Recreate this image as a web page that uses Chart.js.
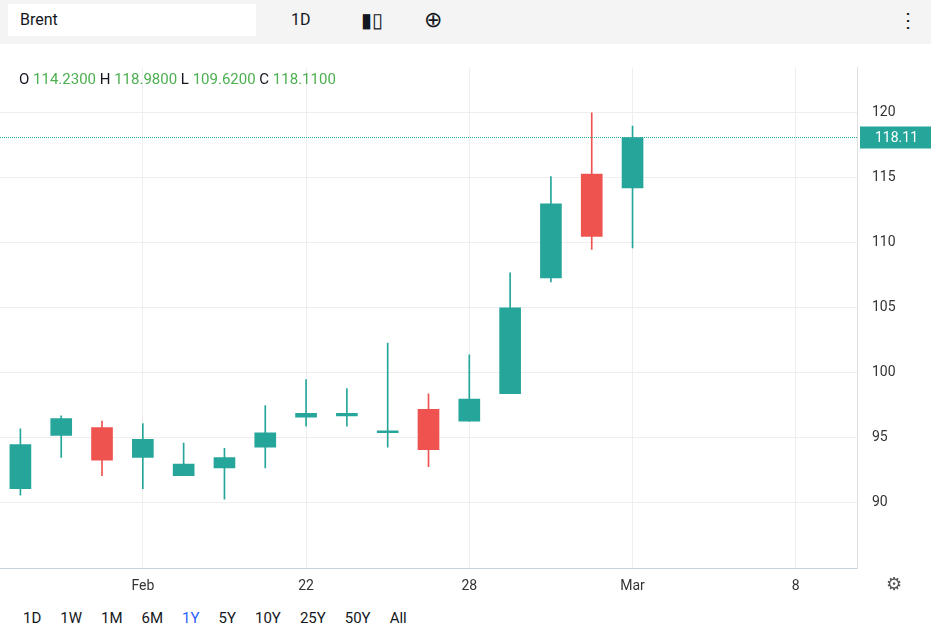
<!DOCTYPE html>
<html><head><meta charset="utf-8">
<script src="https://cdn.jsdelivr.net/npm/chart.js@4.4.1/dist/chart.umd.min.js"></script>
<style>
body{margin:0;width:931px;height:633px;font-family:Roboto,"Noto Sans",sans-serif;background:#fff;position:relative;overflow:hidden;color:#131722}
#top{position:absolute;left:0;top:0;width:931px;height:44px;background:#f4f4f4}
#sym{position:absolute;left:8px;top:4px;width:248px;height:32px;background:#fff;font-size:16px;line-height:32px;padding-left:12px;box-sizing:border-box}
.tb{position:absolute;top:0;line-height:40px;font-size:16px}
#ohlc{position:absolute;left:19px;top:70px;font-size:15px}
#ohlc span{color:#4caf50}
#wrap{position:absolute;left:0;top:44px;width:931px;height:556px}
#bot{position:absolute;left:23px;top:609px;font-size:15px}
#bot span{margin-right:19px}
</style></head><body>
<div id="top"><div id="sym">Brent</div>
<div class="tb" style="left:291px">1D</div>
<div class="tb" style="left:361px;font-size:20px">&#9646;&#9647;</div>
<div class="tb" style="left:424px;font-size:22px">&#8853;</div>
<div class="tb" style="left:898px;font-size:20px">&#8942;</div></div>
<div id="wrap"><canvas id="c"></canvas></div>
<div id="ohlc">O <span>114.2300</span> H <span>118.9800</span> L <span>109.6200</span> C <span>118.1100</span></div>
<div id="bot"><span>1D</span><span>1W</span><span>1M</span><span>6M</span><span style="color:#2962ff">1Y</span><span>5Y</span><span>10Y</span><span>25Y</span><span>50Y</span><span>All</span></div>
<div style="position:absolute;left:886px;top:573px;font-size:18px;color:#555">&#9881;</div>
<script>
const labels = ['', '', '', 'Feb', '', '', '', '22', '', '', '', '28', '', '', '', 'Mar', '', '', '', '8', ''];
const opens  = [91.1, 95.2, 95.8, 93.5, 92.1, 92.7, 94.3, 96.6, 96.7, 95.4, 97.2, 96.3, 98.4, 107.3, 115.3, 114.23];
const highs  = [95.7, 96.7, 96.3, 96.1, 94.6, 94.2, 97.5, 99.5, 98.8, 102.3, 98.4, 101.4, 107.7, 115.1, 120.0, 118.98];
const lows   = [90.6, 93.5, 92.1, 91.1, 92.1, 90.3, 92.7, 95.9, 95.9, 94.3, 92.8, 96.3, 98.4, 107.0, 109.5, 109.62];
const closes = [94.5, 96.5, 93.3, 94.9, 93.0, 93.5, 95.4, 96.9, 96.9, 95.55, 94.1, 98.0, 105.0, 113.0, 110.5, 118.11];
const yTicks = [90, 95, 100, 105, 110, 115, 120];
const lastPrice = 118.11;

const green = '#26a69a', red = '#ef5350';
const colors = opens.map((o, i) => closes[i] >= o ? green : red);

const priceLine = {
  id: 'priceLine',
  afterDraw(chart) {
    const {ctx, chartArea, scales} = chart;
    const y = Math.round(scales.y.getPixelForValue(lastPrice)) + 0.5;
    ctx.save();
    ctx.strokeStyle = green; ctx.lineWidth = 1; ctx.setLineDash([1, 1]);
    ctx.beginPath(); ctx.moveTo(0, y); ctx.lineTo(chartArea.right, y); ctx.stroke();
    ctx.setLineDash([]);
    ctx.fillStyle = green;
    ctx.fillRect(chartArea.right + 3, y - 11, 74, 22);
    ctx.fillStyle = '#fff'; ctx.font = '14px Roboto'; ctx.textBaseline = 'middle';
    ctx.fillText(lastPrice.toFixed(2), chartArea.right + 18, y + 1);
    ctx.restore();
  }
};

new Chart(document.getElementById('c'), {
  type: 'bar',
  data: {
    labels: labels,
    datasets: [{
      data: highs.map((h, i) => [lows[i], h]),
      backgroundColor: colors, barThickness: 1, grouped: false
    }, {
      data: opens.map((o, i) => [o, closes[i]]),
      backgroundColor: colors, barThickness: 21, grouped: false, minBarLength: 2
    }]
  },
  options: {
    responsive: true, maintainAspectRatio: false, animation: false,
    layout: {padding: 0},
    plugins: {legend: {display: false}, tooltip: {enabled: false}},
    scales: {
      x: {
        grid: {offset: false, color: c => labels[c.index] ? '#eeeeee' : 'transparent', drawTicks: false},
        border: {color: '#c8d0dc'},
        ticks: {autoSkip: false, maxRotation: 0, color: '#333', font: {size: 14, family: 'Roboto'}, padding: 10,
          callback: (v, i) => labels[i]},
        afterFit: s => { s.height = 32; }
      },
      y: {
        position: 'right', min: 85, max: 123.5,
        afterBuildTicks: s => { s.ticks = yTicks.map(v => ({value: v})); },
        grid: {color: '#eeeeee', drawTicks: false},
        border: {color: '#e0e0e0'},
        ticks: {color: '#333', font: {size: 14, family: 'Roboto'}, padding: 15},
        afterFit: s => { s.width = 74; }
      }
    }
  },
  plugins: [priceLine]
});
</script>
</body></html>
